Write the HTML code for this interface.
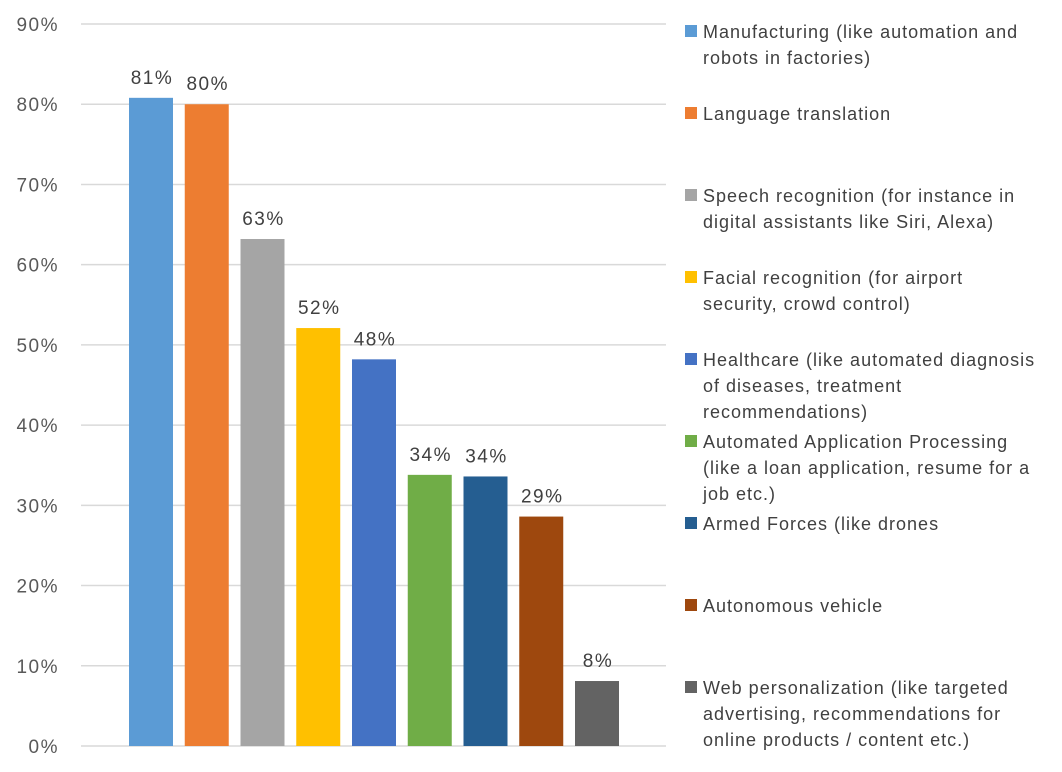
<!DOCTYPE html>
<html><head><meta charset="utf-8"><style>
body{margin:0;background:#fff;}
svg{display:block;font-family:"Liberation Sans",sans-serif;}
</style></head><body>
<svg id="chart" width="1062" height="772"></svg>
<script>
const categories=["Manufacturing (like automation and|robots in factories)","Language translation","Speech recognition (for instance in|digital assistants like Siri, Alexa)","Facial recognition (for airport|security, crowd control)","Healthcare (like automated diagnosis|of diseases, treatment|recommendations)","Automated Application Processing|(like a loan application, resume for a|job etc.)","Armed Forces (like drones","Autonomous vehicle","Web personalization (like targeted|advertising, recommendations for|online products / content etc.)"];
const values=[80.8,80.0,63.2,52.1,48.2,33.8,33.6,28.6,8.1];
const valueLabels=["81%","80%","63%","52%","48%","34%","34%","29%","8%"];
const colors=["#5B9BD5","#ED7D31","#A5A5A5","#FFC000","#4472C4","#70AD47","#255E91","#9E480E","#636363"];
const ticks=[0,10,20,30,40,50,60,70,80,90];
const legendY=[32,114,196,278,360,442,524,606,688];
const NS="http://www.w3.org/2000/svg";
const svg=document.getElementById('chart');
function y(v){return 746-v*8.022;}
function x(i){return 129+i*55.75;}
function mk(t,a,p){const e=document.createElementNS(NS,t);for(const k in a)e.setAttribute(k,a[k]);(p||svg).appendChild(e);return e;}
ticks.forEach(t=>{
 const l=mk('line',{x1:81,x2:666,y1:y(t),y2:y(t),stroke:'#D9D9D9','stroke-width':1.5});
 
 
 const tx=mk('text',{x:59,y:y(t)+7,'text-anchor':'end','font-size':19,'letter-spacing':1.5,fill:'#595959'});
 tx.textContent=t+'%';
 
 
});
values.forEach((v,i)=>{
 const r=mk('rect',{x:x(i),y:y(v),width:44,height:y(0)-y(v),fill:colors[i]});
 
 
 const t=mk('text',{x:x(i)+23,y:y(v)-14,'text-anchor':'middle','font-size':19,'letter-spacing':1.5,fill:'#404040'});
 t.textContent=valueLabels[i];
 
 
});
categories.forEach((c,i)=>{
 const g=mk('g',{});
 
 
 mk('rect',{x:685,y:legendY[i]-7,width:12,height:12,fill:colors[i]},g);
 c.split('|').forEach((ln,j)=>{
  const t=mk('text',{x:703,y:legendY[i]+6+j*26,'font-size':18,'letter-spacing':1,fill:'#404040'},g);
  t.textContent=ln;
 });
});
</script>
</body></html>
